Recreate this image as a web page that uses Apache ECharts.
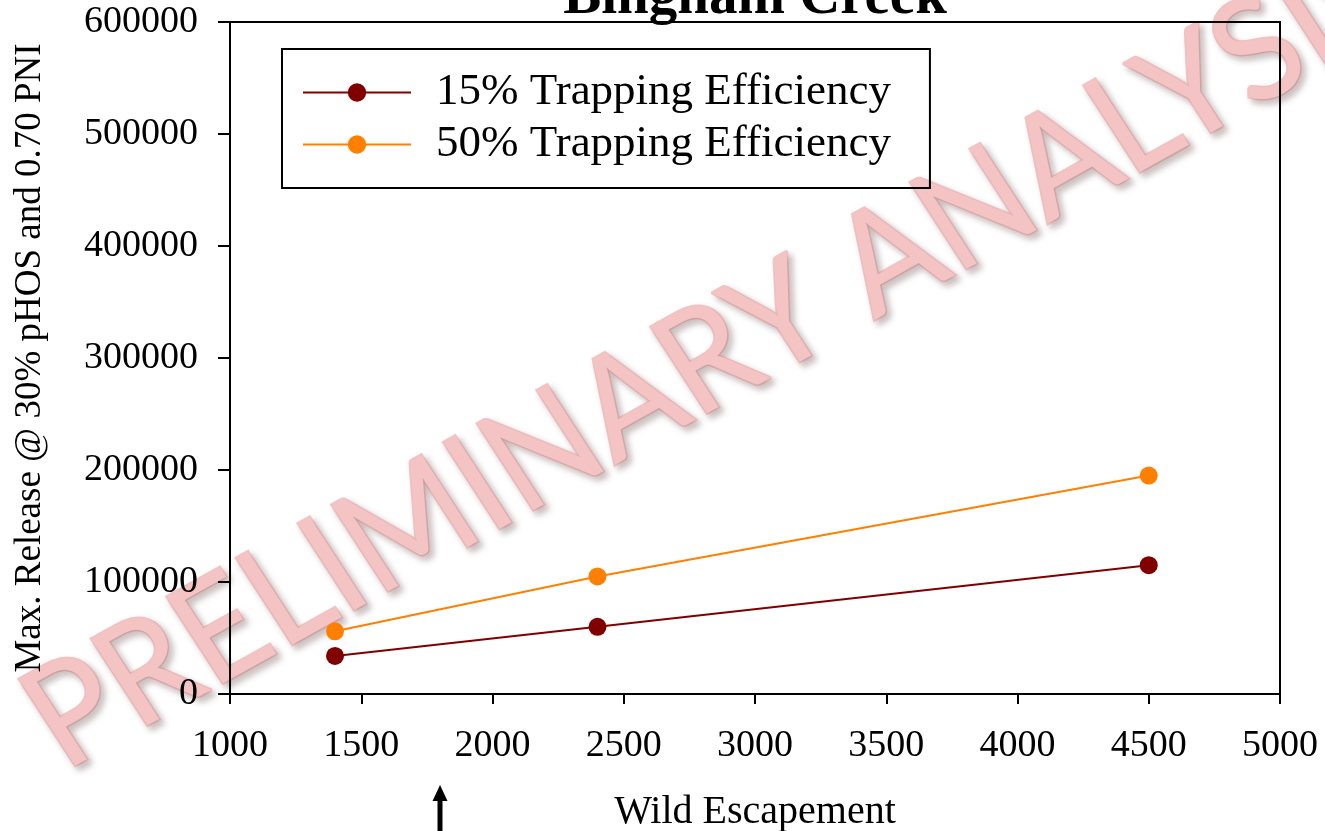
<!DOCTYPE html>
<html>
<head>
<meta charset="utf-8">
<script src="https://cdn.jsdelivr.net/npm/echarts@6/dist/echarts.min.js"></script>
<style>
html,body{margin:0;padding:0;background:#fff;}
#chart{width:1325px;height:831px;}
</style>
</head>
<body>
<div id="chart"></div>
<script>
// ---- data ----
const titleText = 'Bingham Creek';
const xAxisName = 'Wild Escapement';
const yAxisName = 'Max. Release @ 30% pHOS and 0.70 PNI';
const seriesNames = ['15% Trapping Efficiency', '50% Trapping Efficiency'];
const escapement = [1400, 2400, 4500];
const release15 = [34000, 60000, 115000];
const release50 = [56000, 105000, 195000];
const arrowX = 1800;
const watermarkText = 'PRELIMINARY ANALYSIS';

const serif = '"Liberation Serif", "Times New Roman", serif';

const chart = echarts.init(document.getElementById('chart'));

function pairs(xs, ys) { return xs.map((x, i) => [x, ys[i]]); }

const option = {
  animation: false,
  backgroundColor: '#fff',
  grid: {
    left: 230, right: 45, top: 22, bottom: 137,
    outerBoundsMode: 'none',
    containLabel: false,
    show: true, borderColor: '#000', borderWidth: 2, backgroundColor: 'transparent'
  },
  legend: {
    orient: 'vertical',
    left: 282, top: 49,
    padding: [21, 39, 21, 20],
    itemGap: 7,
    itemWidth: 108,
    itemHeight: 23,
    backgroundColor: 'transparent',
    borderColor: '#000',
    borderWidth: 2,
    textStyle: { fontFamily: serif, fontSize: 45, color: '#000', padding: [0, 0, 0, 20] },
    data: seriesNames
  },
  xAxis: {
    type: 'value',
    min: 1000, max: 5000, interval: 500,
    name: xAxisName,
    nameLocation: 'middle',
    nameGap: 98,
    nameTextStyle: { fontFamily: serif, fontSize: 40, color: '#000' },
    axisLine: { show: true, onZero: false, lineStyle: { color: '#000', width: 2 } },
    axisTick: { show: true, inside: false, length: 10, lineStyle: { color: '#000', width: 2 } },
    axisLabel: { fontFamily: serif, fontSize: 38, color: '#000', margin: 33, formatter: v => String(v) },
    splitLine: { show: false }
  },
  yAxis: {
    type: 'value',
    min: 0, max: 600000, interval: 100000,
    name: yAxisName,
    nameLocation: 'middle',
    nameGap: 181,
    nameTextStyle: { fontFamily: serif, fontSize: 37, color: '#000' },
    axisLine: { show: true, onZero: false, lineStyle: { color: '#000', width: 2 } },
    axisTick: { show: true, inside: false, length: 12, lineStyle: { color: '#000', width: 2 } },
    axisLabel: { fontFamily: serif, fontSize: 38, color: '#000', margin: 32, formatter: v => String(v) },
    splitLine: { show: false }
  },
  series: [
    {
      name: seriesNames[0], type: 'line',
      data: pairs(escapement, release15),
      symbol: 'circle', symbolSize: 18,
      lineStyle: { color: '#800000', width: 2 },
      itemStyle: { color: '#800000' },
      z: 3
    },
    {
      name: seriesNames[1], type: 'line',
      data: pairs(escapement, release50),
      symbol: 'circle', symbolSize: 18,
      lineStyle: { color: '#ff8000', width: 2 },
      itemStyle: { color: '#ff8000' },
      z: 3
    }
  ]
};
chart.setOption(option);

const plotCenterX = chart.convertToPixel({ xAxisIndex: 0 }, 3000);
const ax = chart.convertToPixel({ xAxisIndex: 0 }, arrowX);

// ---- watermark placement (stretched horizontally like the reference) ----
const wmFontSize = 141;
const wmFont = wmFontSize + 'px Lato, "Open Sans", sans-serif';
const stretch = 1.08;
const cv = document.createElement('canvas').getContext('2d');
cv.font = wmFont;
cv.textBaseline = 'middle';
const baseOff = cv.measureText('H').actualBoundingBoxDescent;
const lsbP = -cv.measureText('P').actualBoundingBoxLeft;
const lsbA = -cv.measureText('A').actualBoundingBoxLeft;
const wPrefix = cv.measureText('PRELIMINARY ').width;
const em = wmFontSize;
const p1 = [lsbP + 0.045 * em, baseOff];
const p2 = [wPrefix + lsbA + 0.05 * em, baseOff];
const P1 = [80 / stretch, 763];   // P stem foot
const P2 = [880 / stretch, 317];  // foot of first A in ANALYSIS
const dxg = P2[0] - P1[0], dyg = P2[1] - P1[1];
const th = Math.atan2(-dyg, dxg);
const sx = Math.hypot(dxg, dyg) / (p2[0] - p1[0]);
const c = Math.cos(th), s = Math.sin(th);
const rx = p1[0] * sx * c + p1[1] * s;
const ry = -p1[0] * sx * s + p1[1] * c;
const tx = P1[0] - rx, ty = P1[1] - ry;

chart.setOption({
  graphic: [
    {
      type: 'text', z: 60,
      x: plotCenterX, y: -2,
      style: {
        text: titleText,
        font: 'bold 57px "Liberation Serif", serif',
        fill: '#000', align: 'center', verticalAlign: 'middle'
      }
    },
    {
      type: 'group', z: 50,
      children: [
        { type: 'rect', shape: { x: ax - 2.5, y: 797, width: 5, height: 40 }, style: { fill: '#000' } },
        { type: 'polygon', shape: { points: [[ax, 785], [ax - 7.5, 801], [ax + 7.5, 801]] }, style: { fill: '#000' } }
      ]
    },
    {
      type: 'group', z: -10,
      x: 0, y: 0, scaleX: stretch, scaleY: 1,
      children: [
        {
          type: 'text', z: -10,
          x: tx, y: ty,
          rotation: th,
          scaleX: sx, scaleY: 1,
          style: {
            text: watermarkText,
            font: wmFont,
            fill: '#f4c3c3',
            stroke: '#f4c3c3',
            lineWidth: 3,
            textShadowColor: 'rgba(120,90,90,0.35)',
            textShadowBlur: 6,
            textShadowOffsetX: 4,
            textShadowOffsetY: 4,
            verticalAlign: 'middle',
            align: 'left'
          }
        }
      ]
    }
  ]
});
</script>
</body>
</html>
